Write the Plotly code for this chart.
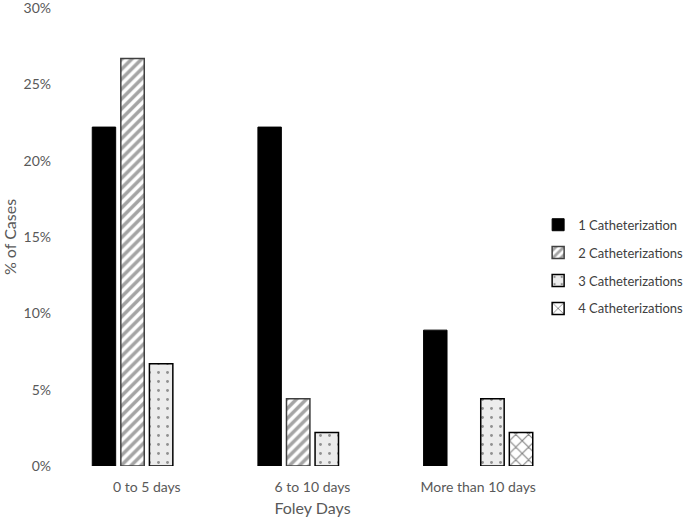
import plotly.graph_objects as go

categories = ["0 to 5 days", "6 to 10 days", "More than 10 days"]
series_names = ["1 Catheterization", "2 Catheterizations", "3 Catheterizations", "4 Catheterizations"]
cath1 = [22.2, 22.2, 8.9]
cath2 = [26.7, 4.4, 0]
cath3 = [6.7, 2.2, 4.4]
cath4 = [0, 0, 2.2]
y_ticks = [0, 5, 10, 15, 20, 25, 30]

styles = [
    dict(color="black", line=dict(color="black", width=1)),
    dict(color="white", line=dict(color="#404040", width=1.5),
         pattern=dict(shape="/", fgcolor="#4a4a4a", bgcolor="white", size=7, solidity=0.5)),
    dict(color="#e8e8e8", line=dict(color="black", width=1.5),
         pattern=dict(shape=".", fgcolor="#333333", bgcolor="#ececec", size=9, solidity=0.08)),
    dict(color="white", line=dict(color="black", width=1.5),
         pattern=dict(shape="x", fgcolor="black", bgcolor="white", size=9, solidity=0.22)),
]

fig = go.Figure()
for i, (name, vals, st) in enumerate(zip(series_names, [cath1, cath2, cath3, cath4], styles)):
    # zero-height bars are not drawn in the original
    shown = [v if v else None for v in vals]
    fig.add_trace(go.Bar(x=categories, y=shown, name=name, marker=st, legendgroup=f"g{i}"))

fig.update_layout(
    width=685, height=522,
    margin=dict(l=64, r=124, t=8, b=56, autoexpand=False),
    plot_bgcolor="white", paper_bgcolor="white",
    font=dict(family="Lato, Open Sans, sans-serif", color="#595959", size=14),
    barmode="group", bargap=0.31, bargroupgap=0.18,
    showlegend=True,
    legend=dict(x=0.954, y=0.435, yanchor="middle", xanchor="left",
                font=dict(size=13, color="#404040"), tracegroupgap=8,
                itemwidth=30),
)
fig.update_xaxes(title=dict(text="Foley Days", font=dict(size=16), standoff=8),
                 showgrid=False, showline=False, ticks="", ticklabelstandoff=11)
fig.update_yaxes(title=dict(text="% of Cases", font=dict(size=16), standoff=2),
                 range=[0, 30], tickvals=y_ticks, ticktext=[f"{v}%" for v in y_ticks],
                 showgrid=False, zeroline=False, showline=False, ticklabelstandoff=12,
                 ticklabeloverflow="allow")

# drop the default page margin so the figure sits at the window's corner
fig.write_html("out.html", config={"displayModeBar": False},
               post_script="document.body.style.margin='0';")
